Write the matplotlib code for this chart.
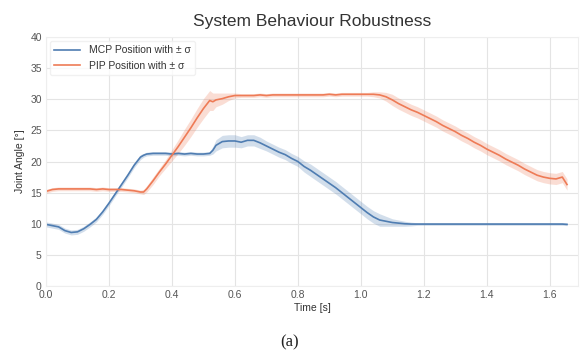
import matplotlib
matplotlib.use('Agg')
import matplotlib.pyplot as plt
import numpy as np

# sample times [s]
t = [0.00, 0.02, 0.04, 0.06, 0.08, 0.10, 0.12, 0.14, 0.16, 0.18,
     0.20, 0.22, 0.24, 0.26, 0.28, 0.30, 0.31, 0.32, 0.34, 0.36,
     0.38, 0.40, 0.42, 0.44, 0.46, 0.48, 0.50, 0.52, 0.53, 0.54,
     0.56, 0.58, 0.60, 0.62, 0.64, 0.66, 0.68, 0.70, 0.72, 0.74,
     0.76, 0.78, 0.80, 0.82, 0.84, 0.86, 0.88, 0.90, 0.92, 0.94,
     0.96, 0.98, 1.00, 1.02, 1.04, 1.06, 1.08, 1.10, 1.12, 1.14,
     1.16, 1.18, 1.20, 1.22, 1.24, 1.26, 1.28, 1.30, 1.32, 1.34,
     1.36, 1.38, 1.40, 1.42, 1.44, 1.46, 1.48, 1.50, 1.52, 1.54,
     1.56, 1.58, 1.60, 1.62, 1.64, 1.655]

# MCP joint angle mean and std [deg]
mcp_mean = [9.9, 9.7, 9.5, 8.9, 8.6, 8.7, 9.2, 9.9, 10.7, 11.9,
            13.3, 14.8, 16.3, 17.8, 19.4, 20.7, 21.0, 21.2, 21.3, 21.3,
            21.3, 21.2, 21.3, 21.2, 21.3, 21.2, 21.2, 21.3, 21.8, 22.6,
            23.2, 23.3, 23.3, 23.1, 23.4, 23.4, 23.0, 22.5, 22.0, 21.5,
            21.1, 20.5, 20.0, 19.2, 18.6, 17.9, 17.2, 16.5, 15.8, 15.0,
            14.2, 13.4, 12.6, 11.8, 11.1, 10.6, 10.4, 10.2, 10.1, 10.0,
            9.95, 9.95, 9.95, 9.95, 9.95, 9.95, 9.95, 9.95, 9.95, 9.95,
            9.95, 9.95, 9.95, 9.95, 9.95, 9.95, 9.95, 9.95, 9.95, 9.95,
            9.95, 9.95, 9.95, 9.95, 9.95, 9.9]
mcp_std = [0.4, 0.4, 0.4, 0.4, 0.4, 0.4, 0.4, 0.4, 0.4, 0.4,
           0.4, 0.4, 0.4, 0.4, 0.4, 0.4, 0.3, 0.3, 0.3, 0.3,
           0.3, 0.3, 0.3, 0.3, 0.3, 0.3, 0.3, 0.3, 0.6, 0.9,
           1.0, 1.0, 1.0, 0.9, 0.9, 0.9, 0.9, 0.8, 0.8, 0.8,
           0.8, 0.8, 0.8, 0.9, 1.0, 1.0, 1.0, 1.0, 1.0, 1.0,
           1.0, 1.0, 1.0, 1.0, 1.0, 1.0, 0.8, 0.6, 0.5, 0.4,
           0.3, 0.2, 0.2, 0.2, 0.2, 0.2, 0.2, 0.2, 0.2, 0.2,
           0.2, 0.2, 0.2, 0.2, 0.2, 0.2, 0.2, 0.2, 0.2, 0.2,
           0.2, 0.2, 0.2, 0.2, 0.2, 0.2]

# PIP joint angle mean and std [deg]
pip_mean = [15.2, 15.5, 15.6, 15.6, 15.6, 15.6, 15.6, 15.6, 15.5, 15.6,
            15.5, 15.5, 15.5, 15.4, 15.3, 15.1, 15.1, 15.6, 16.9, 18.3,
            19.6, 21.0, 22.4, 23.9, 25.4, 27.0, 28.5, 29.8, 29.6, 29.9,
            30.1, 30.4, 30.6, 30.6, 30.6, 30.6, 30.7, 30.6, 30.7, 30.7,
            30.7, 30.7, 30.7, 30.7, 30.7, 30.7, 30.7, 30.8, 30.7, 30.8,
            30.8, 30.8, 30.8, 30.8, 30.8, 30.7, 30.4, 29.9, 29.3, 28.8,
            28.3, 27.9, 27.4, 26.9, 26.4, 25.8, 25.3, 24.8, 24.2, 23.7,
            23.1, 22.6, 22.0, 21.5, 21.0, 20.4, 19.9, 19.4, 18.8, 18.3,
            17.8, 17.5, 17.3, 17.2, 17.5, 16.3]
pip_std = [0.3, 0.3, 0.3, 0.3, 0.3, 0.3, 0.3, 0.3, 0.3, 0.3,
           0.3, 0.3, 0.3, 0.3, 0.3, 0.3, 0.4, 0.5, 0.6, 0.6,
           0.7, 0.9, 1.1, 1.3, 1.4, 1.5, 1.6, 1.6, 1.4, 1.1,
           0.9, 0.6, 0.4, 0.3, 0.3, 0.3, 0.3, 0.3, 0.3, 0.3,
           0.3, 0.3, 0.3, 0.3, 0.3, 0.3, 0.3, 0.3, 0.3, 0.3,
           0.3, 0.3, 0.3, 0.3, 0.4, 0.5, 0.7, 0.9, 0.9, 0.9,
           0.9, 0.9, 0.9, 0.9, 0.9, 0.9, 0.9, 0.9, 0.9, 0.9,
           0.9, 0.9, 0.9, 0.9, 0.9, 0.9, 0.9, 0.9, 0.9, 0.9,
           0.9, 0.9, 0.9, 0.9, 0.9, 0.9]

c_mcp = '#4f7db2'
c_pip = '#ee7b56'

plt.rcParams['font.family'] = ['Liberation Sans', 'DejaVu Sans']

fig = plt.figure(figsize=(5.8, 3.58), dpi=100)
ax = fig.add_axes([0.0793, 0.2011, 0.9173, 0.6955])

t_a = np.array(t)
for mean, std, c, lab in [(mcp_mean, mcp_std, c_mcp, 'MCP Position with \u00b1 \u03c3'),
                          (pip_mean, pip_std, c_pip, 'PIP Position with \u00b1 \u03c3')]:
    m = np.array(mean)
    s = np.array(std)
    ax.fill_between(t_a, m - s, m + s, color=c, alpha=0.25, linewidth=0)
    ax.plot(t_a, m, color=c, linewidth=1.2, label=lab)

ax.set_xlim(0, 1.69)
ax.set_ylim(0, 40)
ax.set_xticks(np.arange(0, 1.61, 0.2))
ax.set_yticks(np.arange(0, 41, 5))
ax.grid(True, color='#e4e4e4', linewidth=0.8)
ax.set_axisbelow(True)
for sp in ax.spines.values():
    sp.set_color('#eeeeee')
ax.tick_params(length=0, labelsize=7.5, labelcolor='#555555', pad=3)

ax.set_xlabel('Time [s]', fontsize=7.5, color='#333333', labelpad=2)
ax.set_ylabel('Joint Angle [\u00b0]', fontsize=7.5, color='#333333', labelpad=4)
ax.set_title('System Behaviour Robustness', fontsize=12.5, color='#333333', pad=8)

leg = ax.legend(loc='upper left', fontsize=7.5, frameon=True, handlelength=2.5,
                borderaxespad=0.4)
leg.get_frame().set_edgecolor('#eeeeee')
for txt in leg.get_texts():
    txt.set_color('#333333')

fig.text(0.5, 0.022, '(a)', ha='center', va='bottom', fontsize=12,
         family='Liberation Serif', color='#222222')

fig.savefig('out.png', dpi=100)
